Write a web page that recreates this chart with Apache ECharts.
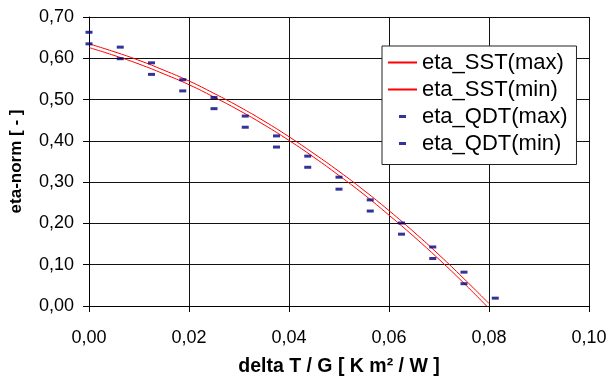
<!DOCTYPE html>
<html>
<head>
<meta charset="utf-8">
<script src="https://cdn.jsdelivr.net/npm/echarts@6/dist/echarts.min.js"></script>
<style>html,body{margin:0;padding:0;background:#fff}#c{width:607px;height:378px}</style>
</head>
<body>
<div id="c"></div>
<script>
// ---- data ----
var sstX   = [0, 0.005, 0.01, 0.015, 0.02, 0.025, 0.03, 0.035, 0.04, 0.045, 0.05, 0.055, 0.06, 0.065, 0.07, 0.075, 0.08];
var sstMax = [0.635, 0.616, 0.595, 0.571, 0.545, 0.515, 0.483, 0.448, 0.410, 0.369, 0.326, 0.280, 0.231, 0.179, 0.124, 0.066, 0.006];
var sstMin = [0.626, 0.607, 0.586, 0.562, 0.536, 0.506, 0.474, 0.439, 0.401, 0.360, 0.316, 0.270, 0.220, 0.168, 0.113, 0.055, -0.006];
var qdtX   = [0, 0.00625, 0.0125, 0.01875, 0.025, 0.03125, 0.0375, 0.04375, 0.05, 0.05625, 0.0625, 0.06875, 0.075, 0.08125];
var qdtMax = [0.663, 0.627, 0.589, 0.548, 0.505, 0.460, 0.412, 0.363, 0.312, 0.257, 0.201, 0.143, 0.082, 0.019];
var qdtMin = [0.635, 0.599, 0.561, 0.521, 0.478, 0.433, 0.385, 0.336, 0.283, 0.230, 0.174, 0.115, 0.054, null];
var seriesNames = ['eta_SST(max)', 'eta_SST(min)', 'eta_QDT(max)', 'eta_QDT(min)'];
var xTitle = 'delta T / G [ K m² / W ]';
var yTitle = 'eta-norm [ - ]';

function pairs(xs, ys) {
  var out = [];
  for (var i = 0; i < xs.length; i++) { if (ys[i] !== null) out.push([xs[i], ys[i]]); }
  return out;
}
function fmt(v) { return v.toFixed(2).replace('.', ','); }

var FONT = "'Liberation Sans', Arial, sans-serif";
var RED = '#ff0000', NAVY = '#000080';
var chart = echarts.init(document.getElementById('c'), null, {renderer: 'canvas'});
var dashIcon = 'path://M0,0M29,14M11,5.5h7v3h-7z';

chart.setOption({
  animation: false,
  backgroundColor: '#fff',
  grid: {left: 89, right: 18, top: 17, bottom: 72, containLabel: false, outerBoundsMode: 'none'},
  xAxis: {
    type: 'value', min: 0, max: 0.1, interval: 0.02,
    name: xTitle, nameLocation: 'middle', nameGap: 51,
    nameTextStyle: {fontFamily: FONT, fontSize: 19.5, fontWeight: 'bold', color: '#000'},
    axisLine: {show: true, lineStyle: {color: '#000', width: 1}},
    axisTick: {show: true, inside: false, length: 6, lineStyle: {color: '#000'}},
    axisLabel: {fontFamily: FONT, fontSize: 18, color: '#000', margin: 23, formatter: fmt},
    splitLine: {show: true, lineStyle: {color: '#111', width: 1}}
  },
  yAxis: {
    type: 'value', min: 0, max: 0.7, interval: 0.1,
    name: yTitle, nameLocation: 'middle', nameGap: 64,
    nameTextStyle: {fontFamily: FONT, fontSize: 17, fontWeight: 'bold', color: '#000'},
    axisLine: {show: true, lineStyle: {color: '#000', width: 1}},
    axisTick: {show: true, inside: false, length: 6, lineStyle: {color: '#000'}},
    axisLabel: {fontFamily: FONT, fontSize: 18, color: '#000', margin: 15, formatter: fmt},
    splitLine: {show: true, lineStyle: {color: '#111', width: 1}}
  },
  legend: {
    orient: 'vertical', left: 382, top: 46,
    padding: [5.5, 9, 10, 5],
    itemWidth: 29, itemHeight: 14, itemGap: 5,
    backgroundColor: '#fff', borderColor: '#222', borderWidth: 1,
    textStyle: {fontFamily: FONT, fontSize: 22, color: '#000'},
    data: [
      {name: seriesNames[0], itemStyle: {opacity: 0}},
      {name: seriesNames[1], itemStyle: {opacity: 0}},
      {name: seriesNames[2], icon: dashIcon, itemStyle: {color: NAVY, borderColor: NAVY, borderWidth: 0}},
      {name: seriesNames[3], icon: dashIcon, itemStyle: {color: NAVY, borderColor: NAVY, borderWidth: 0}}
    ]
  },
  series: [
    {name: seriesNames[0], type: 'line', data: pairs(sstX, sstMax), smooth: true, symbol: 'none',
     lineStyle: {color: RED, width: 1}, itemStyle: {color: RED}, clip: true, z: 3},
    {name: seriesNames[1], type: 'line', data: pairs(sstX, sstMin), smooth: true, symbol: 'none',
     lineStyle: {color: RED, width: 1}, itemStyle: {color: RED}, clip: true, z: 3},
    {name: seriesNames[2], type: 'scatter', data: pairs(qdtX, qdtMax), symbol: 'rect', symbolSize: [7, 3],
     itemStyle: {color: NAVY}, z: 4},
    {name: seriesNames[3], type: 'scatter', data: pairs(qdtX, qdtMin), symbol: 'rect', symbolSize: [7, 3],
     itemStyle: {color: NAVY}, z: 4}
  ]
});
</script>
</body>
</html>
